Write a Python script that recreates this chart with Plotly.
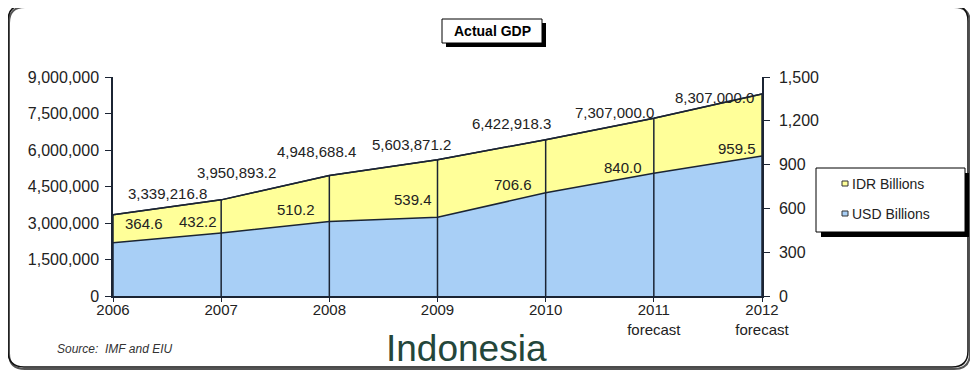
import plotly.graph_objects as go

# ---------------- data ----------------
years = [2006, 2007, 2008, 2009, 2010, 2011, 2012]
tick_text = ["2006", "2007", "2008", "2009", "2010", "2011<br>forecast", "2012<br>forecast"]
idr_billions = [3339216.8, 3950893.2, 4948688.4, 5603871.2, 6422918.3, 7307000.0, 8307000.0]
usd_billions = [364.6, 432.2, 510.2, 539.4, 706.6, 840.0, 959.5]
left_ticks = [0, 1500000, 3000000, 4500000, 6000000, 7500000, 9000000]
right_ticks = [0, 300, 600, 900, 1200, 1500]

# ---------------- label nudges (pixels) ----------------
idr_dx = [54, 15, -13, -26, -34, -39, -48]
idr_dy = [-21, -27, -24, -15, -16, -6, 4]
usd_dx = [31, -23, -33, -25, -33, -31, -25]
usd_dy = [-19, -11, -12, -18, -8, -6, -7]

# page body has an 8px margin; lay out in screen pixels and offset
OFF = 8
W, H = 978 - OFF, 374 - OFF
PL, PR, PT, PB = 113, 762, 77, 296          # plot area in screen pixels
L, T = PL - OFF, PT - OFF
R, B = W - (PR - OFF), H - (PB - OFF)
PW, PH = PR - PL, PB - PT


def px(x):
    return (x - PL) / PW


def py(y):
    return (PB - y) / PH


FONT = "Arial, Liberation Sans, sans-serif"
TXT = "#222222"
LINE = "#1b2433"
YELLOW = "#FFFF99"
BLUE = "#A8CFF6"

fig = go.Figure()

fig.add_trace(go.Scatter(
    x=years, y=idr_billions, name="IDR Billions", mode="lines",
    fill="tozeroy", fillcolor=YELLOW, line=dict(color=LINE, width=1.5),
    yaxis="y", showlegend=False, hoverinfo="skip"))

fig.add_trace(go.Scatter(
    x=years, y=usd_billions, name="USD Billions", mode="lines",
    fill="tozeroy", fillcolor=BLUE, line=dict(color=LINE, width=1.5),
    yaxis="y2", showlegend=False, hoverinfo="skip"))

# drop lines
dx, dy = [], []
for yr, v in zip(years, idr_billions):
    dx += [yr, yr, None]
    dy += [0, v, None]
fig.add_trace(go.Scatter(
    x=dx, y=dy, mode="lines", line=dict(color=LINE, width=1.5),
    yaxis="y3", showlegend=False, hoverinfo="skip"))
fig.add_trace(go.Scatter(
    x=years, y=idr_billions, mode="lines", line=dict(color=LINE, width=1.5),
    yaxis="y3", showlegend=False, hoverinfo="skip"))

annotations = []
for i, yr in enumerate(years):
    annotations.append(dict(
        x=yr, y=idr_billions[i], xref="x", yref="y",
        xanchor="center", yanchor="middle",
        text=f"{idr_billions[i]:,.1f}", showarrow=False,
        xshift=idr_dx[i], yshift=-idr_dy[i],
        font=dict(family=FONT, size=15, color=TXT)))
    annotations.append(dict(
        x=yr, y=usd_billions[i], xref="x", yref="y2",
        xanchor="center", yanchor="middle",
        text=f"{usd_billions[i]:,.1f}", showarrow=False,
        xshift=usd_dx[i], yshift=-usd_dy[i],
        font=dict(family=FONT, size=15, color=TXT)))


def label(x, y, text, size, color=TXT, xanchor="center"):
    return dict(x=px(x), y=py(y), xref="paper", yref="paper",
                xanchor=xanchor, yanchor="middle", text=text, showarrow=False,
                font=dict(family=FONT, size=size, color=color))


annotations += [
    label(492, 31, "<b>Actual GDP</b>", 14, "#000"),
    label(850, 184, "IDR Billions", 14, xanchor="left"),
    label(850, 214, "USD Billions", 14, xanchor="left"),
    label(55, 349, "<i>Source:  IMF and EIU</i>", 12, "#333", xanchor="left"),
    label(466, 348, "Indonesia", 37, "#24463a"),
]


def rect(x0, y0, x1, y1, fill, line_color=None, lw=0):
    return dict(type="rect", xref="paper", yref="paper",
                x0=px(x0), x1=px(x1), y0=py(y1), y1=py(y0),
                fillcolor=fill, line=dict(color=line_color or fill, width=lw),
                layer="above")


def rounded(x0, y0, x1, y1, r):
    X = lambda v: f"{px(v):.5f}"
    Y = lambda v: f"{py(v):.5f}"
    return (f"M {X(x0 + r)},{Y(y0)} L {X(x1 - r)},{Y(y0)} Q {X(x1)},{Y(y0)} {X(x1)},{Y(y0 + r)} "
            f"L {X(x1)},{Y(y1 - r)} Q {X(x1)},{Y(y1)} {X(x1 - r)},{Y(y1)} "
            f"L {X(x0 + r)},{Y(y1)} Q {X(x0)},{Y(y1)} {X(x0)},{Y(y1 - r)} "
            f"L {X(x0)},{Y(y0 + r)} Q {X(x0)},{Y(y0)} {X(x0 + r)},{Y(y0)} Z")


shapes = [
    dict(type="path", xref="paper", yref="paper", path=rounded(9, 7, 970, 369, 16),
         line=dict(color="#555", width=2), layer="below"),
    dict(type="path", xref="paper", yref="paper", path=rounded(8, 5, 968, 367, 16),
         line=dict(color="#111", width=1.5), layer="below"),
    # title box
    rect(446, 23, 546, 47, "#000"),
    rect(442, 19, 542, 43, "#fff", "#000", 1),
    # legend box
    rect(821, 173, 969, 237, "#000"),
    rect(816, 168, 965, 232, "#fff", "#000", 1),
    # legend markers
    rect(842, 181, 848, 186, YELLOW, "#333", 1),
    rect(842, 211, 848, 216, BLUE, "#333", 1),
]

fig.update_layout(
    width=W, height=H,
    margin=dict(l=L, r=R, t=T, b=B),
    paper_bgcolor="white", plot_bgcolor="white",
    showlegend=False,
    font=dict(family=FONT, color=TXT),
    xaxis=dict(range=[2006, 2012], tickmode="array", tickvals=years, ticktext=tick_text,
               showline=True, linecolor=LINE, linewidth=2, ticks="outside", ticklen=4,
               tickcolor=LINE, showgrid=False, zeroline=False, ticklabelstandoff=-5,
               tickfont=dict(family=FONT, size=15, color=TXT)),
    yaxis=dict(range=[0, 9000000], tickmode="array", tickvals=left_ticks, tickformat=",",
               showline=True, linecolor=LINE, linewidth=1.5, ticks="outside", ticklen=6,
               tickcolor=LINE, showgrid=False, zeroline=False, ticklabelstandoff=3,
               tickfont=dict(family=FONT, size=16, color=TXT)),
    yaxis2=dict(range=[0, 1500], overlaying="y", side="right", tickmode="array",
                tickvals=right_ticks, tickformat=",", showline=True, linecolor=LINE,
                linewidth=1.5, ticks="outside", ticklen=6, tickcolor=LINE,
                showgrid=False, zeroline=False, ticklabelstandoff=6,
                tickfont=dict(family=FONT, size=16, color=TXT)),
    yaxis3=dict(range=[0, 9000000], overlaying="y", visible=False),
    annotations=annotations,
    shapes=shapes,
)

fig.write_html("out.html")
